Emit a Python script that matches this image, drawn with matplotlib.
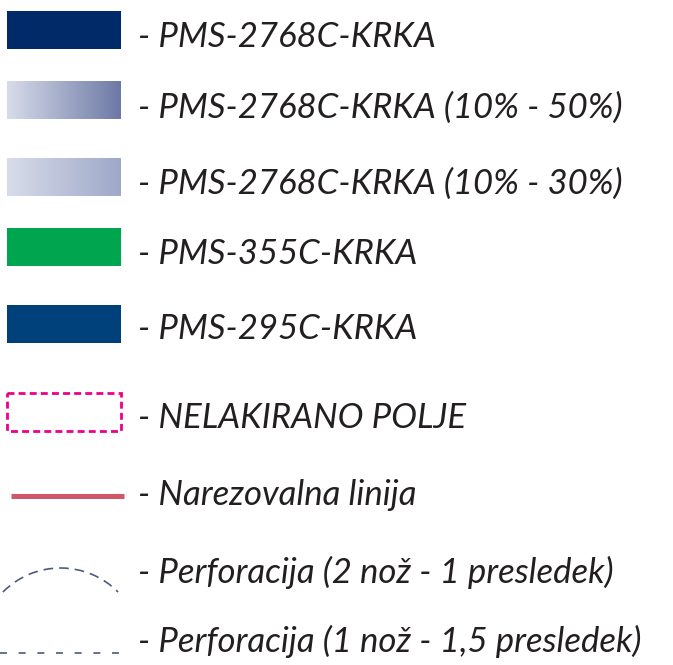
import numpy as np
import matplotlib.pyplot as plt
from matplotlib.patches import Rectangle, Arc
from matplotlib.colors import LinearSegmentedColormap

labels = [
    "- PMS-2768C-KRKA",
    "- PMS-2768C-KRKA (10% - 50%)",
    "- PMS-2768C-KRKA (10% - 30%)",
    "- PMS-355C-KRKA",
    "- PMS-295C-KRKA",
    "- NELAKIRANO POLJE",
    "- Narezovalna linija",
    "- Perforacija (2 nož - 1 presledek)",
    "- Perforacija (1 nož - 1,5 presledek)",
]
kinds = ["solid", "grad", "grad", "solid", "solid", "dashbox", "line", "arc", "dash"]
colors = [
    ("#002a68",),
    ("#d8dcea", "#6c79a5"),
    ("#d8dcea", "#9ea8c8"),
    ("#00a64f",),
    ("#00417b",),
    ("#ec008c",),
    ("#cf5767",),
    ("#4b5a7e",),
    ("#4b5a7e",),
]
# symbol top edge (boxes) or centre line (lines), and text baseline, in pixels
sym_y = [11, 81, 158, 228, 305, 393, 496, 592, 653]
text_y = [47, 118, 194, 264, 339, 428, 505, 583, 652]

fig = plt.figure(figsize=(6.73, 6.65), dpi=100)
ax = fig.add_axes([0, 0, 1, 1])
ax.set_xlim(0, 673)
ax.set_ylim(665, 0)
ax.axis("off")

x0, w, h = 7, 114, 38
for lab, kind, col, y, ty in zip(labels, kinds, colors, sym_y, text_y):
    if kind == "solid":
        ax.add_patch(Rectangle((x0, y), w, h, facecolor=col[0], edgecolor="none"))
    elif kind == "grad":
        cmap = LinearSegmentedColormap.from_list("g", list(col))
        grad = np.linspace(0, 1, 256).reshape(1, -1)
        ax.imshow(grad, cmap=cmap, extent=(x0, x0 + w, y + h, y), aspect="auto")
    elif kind == "dashbox":
        ax.add_patch(Rectangle((x0, y), w, h, facecolor="none", edgecolor=col[0],
                               lw=2.0, ls=(0, (2.5, 1.5))))
    elif kind == "line":
        ax.plot([11, 124], [y, y], color=col[0], lw=3.6, solid_capstyle="butt")
    elif kind == "arc":
        r = 81
        ax.add_patch(Arc((60.5, y - 24 + r), 2 * r, 2 * r, theta1=224.7, theta2=315.3,
                         color=col[0], lw=1.2, ls=(0, (5.8, 3.6))))
    elif kind == "dash":
        ax.plot([0, 121], [y, y], color=col[0], lw=1.2, ls=(0, (4.2, 7.0)))
    ax.text(138, ty, lab, fontsize=25, family="Lato", style="italic",
            color="#231f20", va="baseline", ha="left")

fig.savefig("out.png", dpi=100)
